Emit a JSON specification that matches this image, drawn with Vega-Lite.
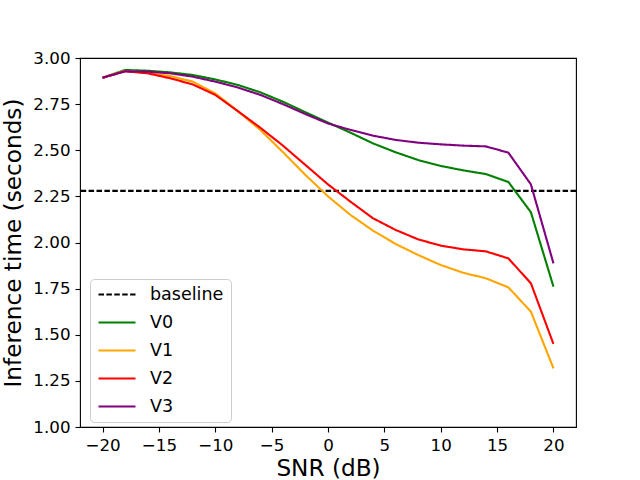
{
  "$schema": "https://vega.github.io/schema/vega-lite/v6.json",
  "autosize": {"type": "none"},
  "padding": {"left": 80, "top": 58, "right": 64, "bottom": 53},
  "width": 496,
  "height": 369,
  "background": "white",
  "datasets": {
    "base": [{"series": "baseline", "time": 2.28}],
    "curves": [
      {"series": "V0", "snr": -20, "time": 2.893},
      {"series": "V0", "snr": -18, "time": 2.935},
      {"series": "V0", "snr": -16, "time": 2.931},
      {"series": "V0", "snr": -14, "time": 2.922},
      {"series": "V0", "snr": -12, "time": 2.908},
      {"series": "V0", "snr": -10, "time": 2.884},
      {"series": "V0", "snr": -8, "time": 2.854},
      {"series": "V0", "snr": -6, "time": 2.814},
      {"series": "V0", "snr": -4, "time": 2.763},
      {"series": "V0", "snr": -2, "time": 2.706},
      {"series": "V0", "snr": 0, "time": 2.650},
      {"series": "V0", "snr": 2, "time": 2.595},
      {"series": "V0", "snr": 4, "time": 2.537},
      {"series": "V0", "snr": 6, "time": 2.489},
      {"series": "V0", "snr": 8, "time": 2.447},
      {"series": "V0", "snr": 10, "time": 2.415},
      {"series": "V0", "snr": 12, "time": 2.391},
      {"series": "V0", "snr": 14, "time": 2.371},
      {"series": "V0", "snr": 16, "time": 2.328},
      {"series": "V0", "snr": 18, "time": 2.164},
      {"series": "V0", "snr": 20, "time": 1.761},
      {"series": "V1", "snr": -20, "time": 2.893},
      {"series": "V1", "snr": -18, "time": 2.930},
      {"series": "V1", "snr": -16, "time": 2.920},
      {"series": "V1", "snr": -14, "time": 2.902},
      {"series": "V1", "snr": -12, "time": 2.872},
      {"series": "V1", "snr": -10, "time": 2.808},
      {"series": "V1", "snr": -8, "time": 2.712},
      {"series": "V1", "snr": -6, "time": 2.610},
      {"series": "V1", "snr": -4, "time": 2.490},
      {"series": "V1", "snr": -2, "time": 2.366},
      {"series": "V1", "snr": 0, "time": 2.250},
      {"series": "V1", "snr": 2, "time": 2.149},
      {"series": "V1", "snr": 4, "time": 2.064},
      {"series": "V1", "snr": 6, "time": 1.992},
      {"series": "V1", "snr": 8, "time": 1.932},
      {"series": "V1", "snr": 10, "time": 1.878},
      {"series": "V1", "snr": 12, "time": 1.836},
      {"series": "V1", "snr": 14, "time": 1.806},
      {"series": "V1", "snr": 16, "time": 1.757},
      {"series": "V1", "snr": 18, "time": 1.625},
      {"series": "V1", "snr": 20, "time": 1.318},
      {"series": "V2", "snr": -20, "time": 2.893},
      {"series": "V2", "snr": -18, "time": 2.928},
      {"series": "V2", "snr": -16, "time": 2.917},
      {"series": "V2", "snr": -14, "time": 2.890},
      {"series": "V2", "snr": -12, "time": 2.857},
      {"series": "V2", "snr": -10, "time": 2.800},
      {"series": "V2", "snr": -8, "time": 2.712},
      {"series": "V2", "snr": -6, "time": 2.622},
      {"series": "V2", "snr": -4, "time": 2.525},
      {"series": "V2", "snr": -2, "time": 2.420},
      {"series": "V2", "snr": 0, "time": 2.315},
      {"series": "V2", "snr": 2, "time": 2.221},
      {"series": "V2", "snr": 4, "time": 2.131},
      {"series": "V2", "snr": 6, "time": 2.068},
      {"series": "V2", "snr": 8, "time": 2.017},
      {"series": "V2", "snr": 10, "time": 1.983},
      {"series": "V2", "snr": 12, "time": 1.963},
      {"series": "V2", "snr": 14, "time": 1.952},
      {"series": "V2", "snr": 16, "time": 1.914},
      {"series": "V2", "snr": 18, "time": 1.779},
      {"series": "V2", "snr": 20, "time": 1.450},
      {"series": "V3", "snr": -20, "time": 2.893},
      {"series": "V3", "snr": -18, "time": 2.928},
      {"series": "V3", "snr": -16, "time": 2.926},
      {"series": "V3", "snr": -14, "time": 2.917},
      {"series": "V3", "snr": -12, "time": 2.899},
      {"series": "V3", "snr": -10, "time": 2.872},
      {"series": "V3", "snr": -8, "time": 2.840},
      {"series": "V3", "snr": -6, "time": 2.800},
      {"series": "V3", "snr": -4, "time": 2.750},
      {"series": "V3", "snr": -2, "time": 2.696},
      {"series": "V3", "snr": 0, "time": 2.645},
      {"series": "V3", "snr": 2, "time": 2.610},
      {"series": "V3", "snr": 4, "time": 2.579},
      {"series": "V3", "snr": 6, "time": 2.556},
      {"series": "V3", "snr": 8, "time": 2.541},
      {"series": "V3", "snr": 10, "time": 2.532},
      {"series": "V3", "snr": 12, "time": 2.525},
      {"series": "V3", "snr": 14, "time": 2.521},
      {"series": "V3", "snr": 16, "time": 2.487},
      {"series": "V3", "snr": 18, "time": 2.315},
      {"series": "V3", "snr": 20, "time": 1.887}
    ]
  },
  "layer": [
    {
      "data": {"name": "base"},
      "mark": {"type": "rule", "strokeWidth": 2.1},
      "encoding": {
        "y": {"field": "time", "type": "quantitative"},
        "color": {"field": "series", "type": "nominal"},
        "strokeDash": {"field": "series", "type": "nominal"}
      }
    },
    {
      "data": {"name": "curves"},
      "mark": {"type": "line", "strokeWidth": 2.1, "clip": true},
      "encoding": {
        "x": {
          "field": "snr", "type": "quantitative",
          "scale": {"domain": [-22, 22], "nice": false, "zero": false},
          "axis": {"title": "SNR (dB)", "values": [-20, -15, -10, -5, 0, 5, 10, 15, 20], "titlePadding": 4}
        },
        "y": {
          "field": "time", "type": "quantitative",
          "scale": {"domain": [1, 3], "nice": false, "zero": false},
          "axis": {"title": "Inference time (seconds)", "values": [1, 1.25, 1.5, 1.75, 2, 2.25, 2.5, 2.75, 3], "format": ".2f", "titlePadding": 7}
        },
        "color": {
          "field": "series", "type": "nominal",
          "scale": {"domain": ["baseline", "V0", "V1", "V2", "V3"], "range": ["#000000", "#008000", "#FFA500", "#FF0000", "#800080"]},
          "legend": {"title": null, "orient": "none", "legendX": 10, "legendY": 221}
        },
        "strokeDash": {
          "field": "series", "type": "nominal",
          "scale": {"domain": ["baseline", "V0", "V1", "V2", "V3"], "range": [[5.5, 2.4], [1, 0], [1, 0], [1, 0], [1, 0]]},
          "legend": {"title": null, "orient": "none", "legendX": 10, "legendY": 221}
        }
      }
    }
  ],
  "config": {
    "font": "DejaVu Sans",
    "view": {"stroke": "#000000", "strokeWidth": 1.1},
    "axis": {
      "grid": false,
      "domain": false,
      "ticks": true,
      "tickColor": "#000000",
      "tickSize": 5,
      "tickWidth": 1.1,
      "labelFont": "DejaVu Sans",
      "labelFontSize": 16.7,
      "labelColor": "#000000",
      "labelPadding": 5,
      "labelFlush": false,
      "labelOverlap": false,
      "titleFont": "DejaVu Sans",
      "titleFontSize": 23.2,
      "titleFontWeight": "normal",
      "titleColor": "#000000"
    },
    "legend": {
      "labelFont": "DejaVu Sans",
      "labelFontSize": 17.5,
      "labelColor": "#000000",
      "symbolType": "stroke",
      "symbolSize": 1369,
      "symbolStrokeWidth": 2.1,
      "clipHeight": 17,
      "labelOffset": 13,
      "rowPadding": 10,
      "padding": 7,
      "fillColor": "rgba(255,255,255,0.8)",
      "strokeColor": "#cccccc",
      "cornerRadius": 4
    }
  }
}
